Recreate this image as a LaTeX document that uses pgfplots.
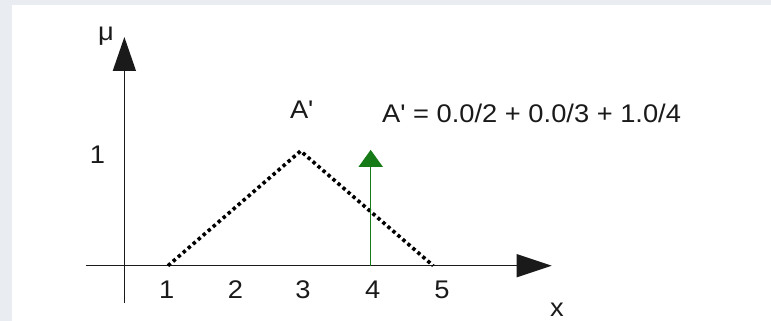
\documentclass[border=0pt]{standalone}
\usepackage{fontspec}
\newfontfamily\lab{Liberation Sans}[FakeStretch=1.07]
\usepackage{pgfplots}
\pgfplotsset{compat=1.18}
\usetikzlibrary{arrows.meta}
\definecolor{frame}{HTML}{E9EDF1}
\definecolor{arrgreen}{RGB}{22,122,22}
\definecolor{ink}{HTML}{1A1A1A}

\begin{document}
\begin{tikzpicture}[
  lbl/.style={font=\lab\fontsize{25.5}{30}\selectfont, text=ink, inner sep=0pt},
]
\begin{axis}[
  scale only axis, width=771pt, height=321pt,
  xmin=-1.534, xmax=10.095, ymin=-0.482, ymax=2.3165,
  hide axis, clip=false,
]
% page background with the grey frame at top and left
\fill[frame] (rel axis cs:0,0) rectangle (rel axis cs:1,1);
\fill[white] (rel axis cs:0.0156,0) rectangle (rel axis cs:1,0.9844);

% the two arrows of the diagram
\addplot[ink, line width=1.5pt, -{Triangle[width=23pt,length=35pt]}]
  coordinates {(-0.237,0) (6.787,0)};
\addplot[ink, line width=1.5pt, -{Triangle[width=23pt,length=34pt]}]
  coordinates {(0.342,-0.325) (0.342,1.994)};

% fuzzy set A' (dotted triangle) and the singleton at 4
\addplot[black, line width=3.6pt, dash pattern=on 3.4pt off 3.2pt]
  coordinates {(1,0) (3,1) (5,0)};
\addplot[arrgreen, line width=1.6pt, -{Triangle[width=24pt,length=17pt]}]
  coordinates {(4.057,0) (4.057,1.01)};

% labels
\node[lbl] at (axis cs:0.980,-0.212) {1};
\node[lbl] at (axis cs:2.018,-0.212) {2};
\node[lbl] at (axis cs:3.036,-0.212) {3};
\node[lbl] at (axis cs:4.088,-0.212) {4};
\node[lbl] at (axis cs:5.133,-0.212) {5};
\node[lbl] at (axis cs:-0.063,0.965) {1};
\node[lbl] at (axis cs:0.065,2.003) {μ};
\node[lbl] at (axis cs:6.867,-0.380) {x};
\node[lbl] at (axis cs:3.017,1.357) {A'};
\node[lbl, anchor=west] at (axis cs:4.228,1.331) {A' = 0.0/2 + 0.0/3 + 1.0/4};
\end{axis}
\end{tikzpicture}
\end{document}
